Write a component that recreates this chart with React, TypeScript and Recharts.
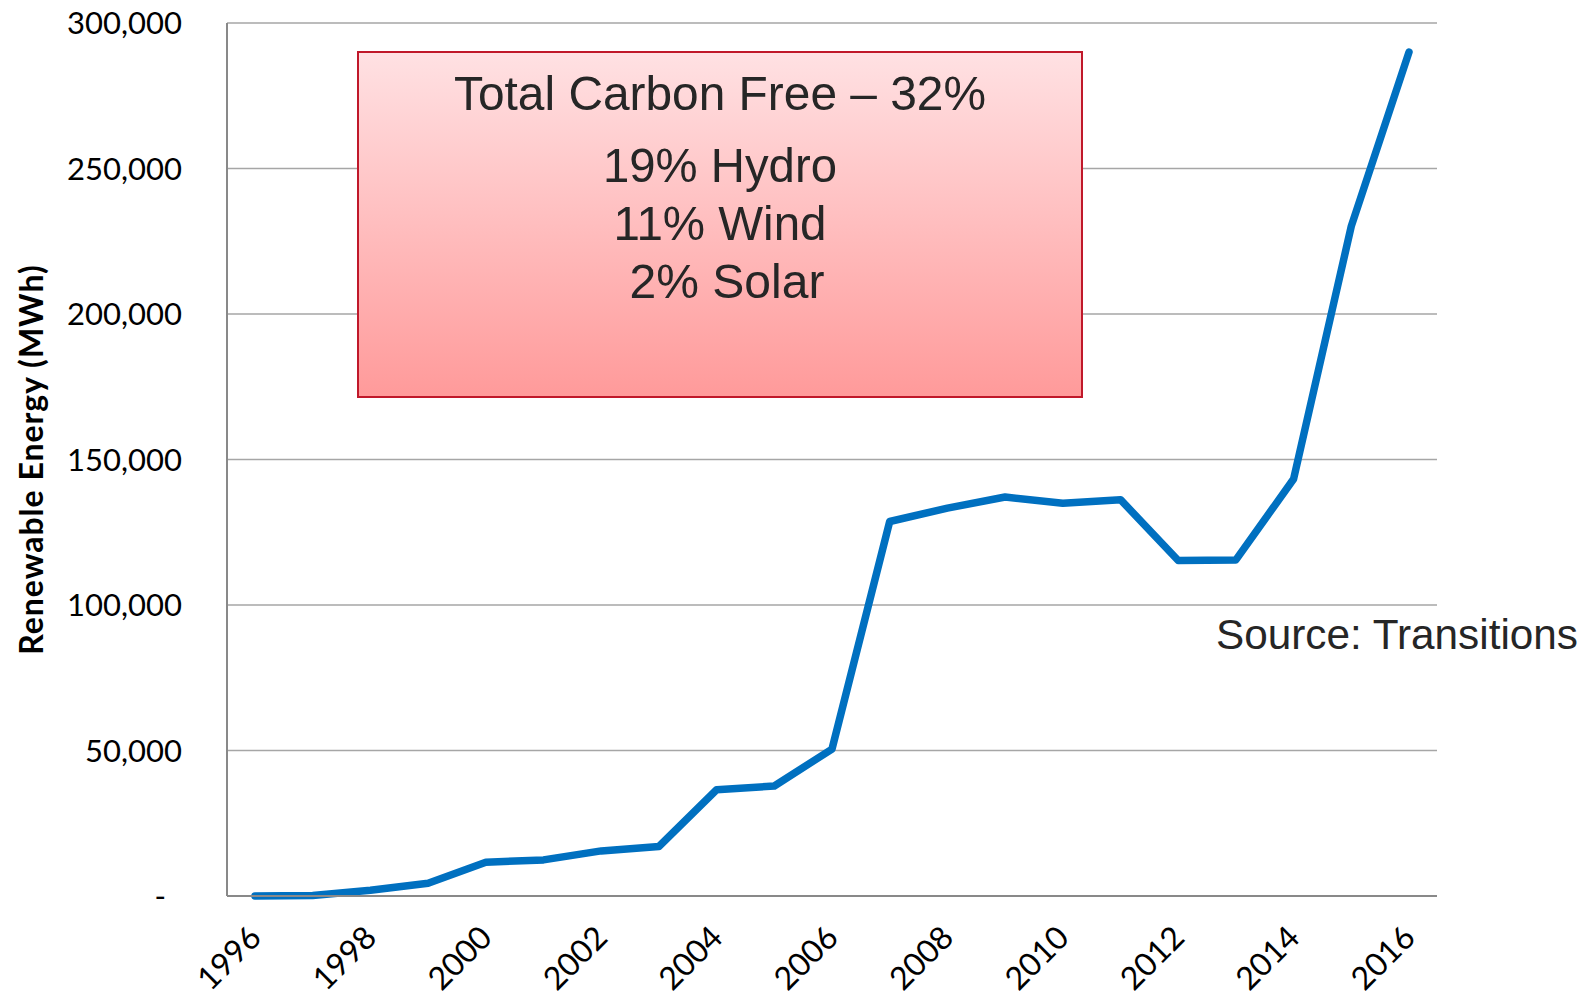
import { LineChart, Line, XAxis, YAxis, CartesianGrid } from "recharts";

const years = [
  "1996", "1997", "1998", "1999", "2000", "2001", "2002", "2003", "2004", "2005",
  "2006", "2007", "2008", "2009", "2010", "2011", "2012", "2013", "2014", "2015", "2016",
];

const renewableMWh = [
  0, 200, 2000, 4400, 11600, 12400, 15500, 17000, 36500, 37800,
  50500, 128700, 133300, 137100, 135000, 136200, 115300, 115500, 143300, 230200, 290000,
];

const yTicks = [0, 50000, 100000, 150000, 200000, 250000, 300000];

const boxTitle = "Total Carbon Free – 32%";
const boxLines = ["19% Hydro", "11% Wind", "2% Solar"];
const sourceNote = "Source: Transitions";

const data = years.map((year, i) => ({ year, value: renewableMWh[i] }));

const W = 1589;
const H = 998;

function YearTick({ x, y, payload }: { x?: number; y?: number; payload?: { value: string } }) {
  const cx = (x ?? 0) - 27;
  const cy = (y ?? 0) + 61;
  return (
    <text
      x={cx}
      y={cy}
      textAnchor="middle"
      dominantBaseline="central"
      transform={`rotate(-45, ${cx}, ${cy})`}
      fill="#000"
      fontSize={32}
      fontFamily="Lato, sans-serif"
    >
      {payload?.value}
    </text>
  );
}

function AxisTitle({ viewBox }: { viewBox?: { x: number; y: number; width: number; height: number } }) {
  if (!viewBox) return null;
  const cx = 30;
  const cy = viewBox.y + viewBox.height / 2;
  return (
    <text
      x={cx}
      y={cy}
      textAnchor="middle"
      dominantBaseline="central"
      transform={`rotate(-90, ${cx}, ${cy})`}
      fill="#000"
      fontSize={32}
      letterSpacing={1}
      fontWeight={700}
      fontFamily="Lato, sans-serif"
    >
      Renewable Energy (MWh)
    </text>
  );
}

export default function App() {
  return (
    <div style={{ position: "absolute", left: 0, top: 0, width: W, height: H, background: "#fff" }}>
      <LineChart
        width={W}
        height={H}
        data={data}
        margin={{ top: 23, right: 152, bottom: 12, left: 0 }}
      >
        <CartesianGrid horizontal vertical={false} stroke="#a6a6a6" strokeWidth={1.5} />
        <XAxis
          dataKey="year"
          interval={1}
          height={90}
          padding={{ left: 28, right: 28 }}
          tickLine={false}
          tickSize={0}
          tickMargin={0}
          axisLine={{ stroke: "#898989", strokeWidth: 2 }}
          tick={<YearTick />}
        />
        <YAxis
          width={227}
          domain={[0, 300000]}
          ticks={yTicks}
          interval={0}
          tickLine={false}
          tickSize={0}
          tickMargin={45}
          axisLine={{ stroke: "#898989", strokeWidth: 2 }}
          tick={{ fill: "#000", fontSize: 31, fontFamily: "Lato, sans-serif" }}
          tickFormatter={(v: number) => (v === 0 ? "-\u00a0\u00a0" : v.toLocaleString("en-US"))}
          label={{ content: <AxisTitle /> }}
        />
        <Line
          type="linear"
          dataKey="value"
          stroke="#0070c0"
          strokeWidth={7.5}
          strokeLinecap="round"
          strokeLinejoin="round"
          dot={false}
          isAnimationActive={false}
        />
      </LineChart>
      <svg
        width={W}
        height={H}
        style={{ position: "absolute", left: 0, top: 0, pointerEvents: "none" }}
      >
        <defs>
          <linearGradient id="boxFill" x1="0" y1="0" x2="0" y2="1">
            <stop offset="0%" stopColor="#ffe1e3" />
            <stop offset="100%" stopColor="#ff9a9a" />
          </linearGradient>
        </defs>
        <rect x={358} y={52} width={724} height={345} fill="url(#boxFill)" stroke="#c0182a" strokeWidth={2} />
        <g fill="#262626" fontFamily="'Liberation Sans', Arial, sans-serif" fontSize={49} textAnchor="middle">
          <text x={720} y={110} textLength={532} lengthAdjust="spacingAndGlyphs">{boxTitle}</text>
          <text x={720} y={182} textLength={234} lengthAdjust="spacingAndGlyphs">{boxLines[0]}</text>
          <text x={720} y={240} textLength={213} lengthAdjust="spacingAndGlyphs">{boxLines[1]}</text>
          <text x={727} y={298} textLength={195} lengthAdjust="spacingAndGlyphs">{boxLines[2]}</text>
        </g>
        <text
          x={1216}
          y={649}
          fill="#262626"
          fontFamily="'Liberation Sans', Arial, sans-serif"
          fontSize={42}
          textLength={362}
          lengthAdjust="spacingAndGlyphs"
        >
          {sourceNote}
        </text>
      </svg>
    </div>
  );
}
